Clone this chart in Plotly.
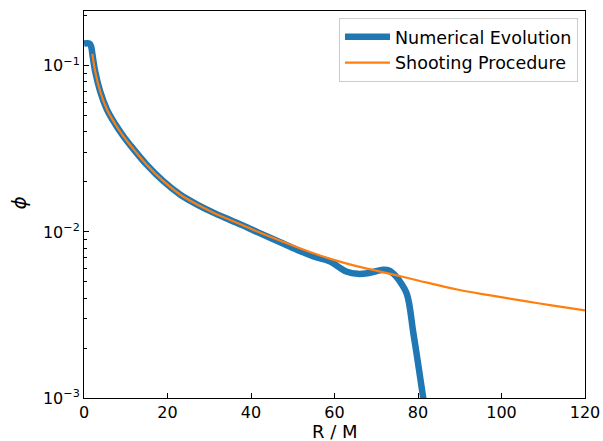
import plotly.graph_objects as go

# Shooting procedure (orange)
shoot_r = [2.0, 2.7, 3.9, 5.5, 7.5, 9.5, 11.0, 15.0, 19.0, 23.0, 27.0, 31.0, 35.0, 39.0,
           41.8, 47.0, 55.0, 59.0, 65.5, 73.4, 80.0, 89.4, 97.0, 105.3, 112.0, 120.0]
shoot_phi = [0.118, 0.0919, 0.0698, 0.0545, 0.0445, 0.0375, 0.0335, 0.0254, 0.0202,
             0.0168, 0.01466, 0.01306, 0.01180, 0.01070, 0.00998, 0.00885, 0.00743,
             0.00688, 0.00620, 0.00559, 0.00510, 0.00450, 0.00416, 0.00384, 0.00361,
             0.00337]

# Numerical evolution (blue)
num_r = [0.0, 1.3, 1.7, 2.0, 2.7, 3.9, 5.5, 7.5, 9.5, 11.0, 15.0, 19.0, 23.0, 27.0,
         31.0, 35.0, 39.0, 41.8, 47.0, 51.0, 55.0, 59.0, 61.0, 63.0, 65.5, 67.9, 70.0,
         71.8, 73.2, 74.1, 75.5, 77.3, 78.9, 80.6, 81.2, 81.6]
num_phi = [0.136, 0.136, 0.131, 0.118, 0.0919, 0.0698, 0.0545, 0.0445, 0.0375, 0.0335,
           0.0254, 0.0202, 0.0168, 0.01466, 0.01306, 0.01180, 0.01067, 0.00990, 0.00866,
           0.00782, 0.00712, 0.00663, 0.00615, 0.00575, 0.00559, 0.00564, 0.00580,
           0.00591, 0.00583, 0.00560, 0.00510, 0.00425, 0.00245, 0.00129, 0.00102,
           0.00088]

y_major = [0.001, 0.01, 0.1]
y_major_text = ["10<sup>\u22123</sup>", "10<sup>\u22122</sup>", "10<sup>\u22121</sup>"]
y_minor = [m * d for d in (0.001, 0.01, 0.1) for m in range(2, 10) if m * d <= 0.21]
x_ticks = [0, 20, 40, 60, 80, 100, 120]

fig = go.Figure()
fig.add_trace(go.Scatter(x=num_r, y=num_phi, mode="lines", name="Numerical Evolution",
                         line=dict(color="#1f77b4", width=6.5, shape="spline", smoothing=1.0)))
fig.add_trace(go.Scatter(x=shoot_r, y=shoot_phi, mode="lines", name="Shooting Procedure",
                         line=dict(color="#ff7f0e", width=2.2, shape="spline", smoothing=1.0)))

font = dict(family="DejaVu Sans", size=16, color="black")
fig.update_layout(
    width=603, height=441,
    margin=dict(l=84, r=18, t=11, b=43),
    paper_bgcolor="white", plot_bgcolor="white",
    font=font,
    showlegend=True,
    legend=dict(x=0.986, y=0.982, xanchor="right", yanchor="top",
                bgcolor="rgba(255,255,255,0.8)", bordercolor="#cccccc", borderwidth=1,
                font=dict(family="DejaVu Sans", size=17.5, color="black"),
                itemwidth=45, tracegroupgap=0),
    xaxis=dict(range=[0, 120], tickvals=x_ticks, ticks="inside", ticklen=5, tickwidth=1,
               tickcolor="black", showline=True, linecolor="black", linewidth=1,
               mirror=True, showgrid=False, zeroline=False, automargin=False,
               tickfont=dict(size=16)),
    yaxis=dict(type="log", range=[-3, -0.67], tickvals=y_major, ticktext=y_major_text,
               ticks="inside", ticklen=5, tickwidth=1, tickcolor="black",
               minor=dict(tickmode="array", tickvals=y_minor, ticks="inside", ticklen=3,
                          tickwidth=1, tickcolor="black", showgrid=False),
               showline=True, linecolor="black", linewidth=1, mirror=True,
               showgrid=False, zeroline=False, automargin=False,
               tickfont=dict(size=16)),
    annotations=[
        dict(text="R / M", xref="paper", yref="paper", x=0.5, y=-0.086,
             xanchor="center", yanchor="middle", showarrow=False,
             font=dict(family="DejaVu Sans", size=18, color="black")),
        dict(text="<i>\u03d5</i>", xref="paper", yref="paper", x=-0.130, y=0.505,
             xanchor="center", yanchor="middle", showarrow=False, textangle=-90,
             font=dict(family="DejaVu Sans", size=20, color="black")),
    ],
)

fig.write_html("out.html")
